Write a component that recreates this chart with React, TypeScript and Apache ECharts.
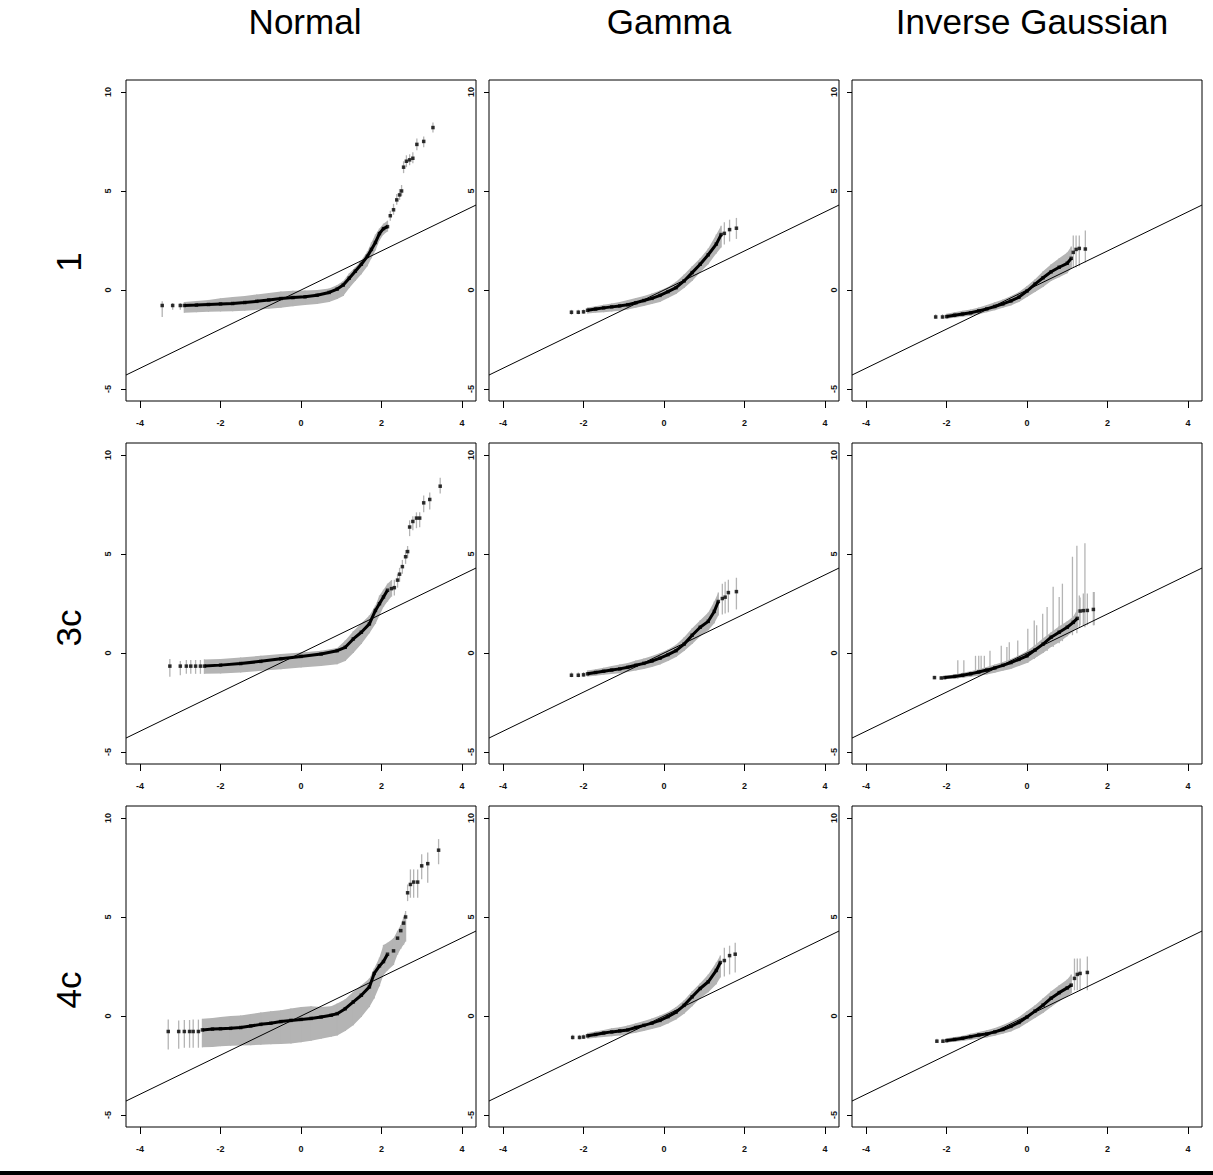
import React, { useEffect, useRef } from "react";
import * as echarts from "echarts";

const COLUMN_TITLES = ["Normal", "Gamma", "Inverse Gaussian"];
const ROW_LABELS = ["1", "3c", "4c"];
const X_TICKS = [-4, -2, 0, 2, 4];
const Y_TICKS = [-5, 0, 5, 10];
const X_RANGE = [-4.35, 4.35];
const Y_RANGE = [-5.6, 10.6];
const REF_LINE_X = [-4.35, 4.35];
const REF_LINE_Y = [-4.29, 4.29];

// ---- Row "1", Normal ----
const n1X = [-3.45, -3.19, -3.0, -2.9, -2.6, -2.3, -2.0, -1.7, -1.4, -1.1, -0.8, -0.5, -0.2, 0.1, 0.4, 0.7, 0.9, 1.05, 1.2, 1.35, 1.5, 1.65, 1.75, 1.85, 1.95, 2.05, 2.15, 2.22, 2.3, 2.38, 2.45, 2.5, 2.55, 2.62, 2.7, 2.78, 2.88, 3.05, 3.28];
const n1Y = [-0.78, -0.78, -0.78, -0.78, -0.76, -0.73, -0.7, -0.68, -0.63, -0.57, -0.5, -0.43, -0.38, -0.34, -0.26, -0.12, 0.05, 0.25, 0.6, 0.95, 1.3, 1.7, 2.05, 2.4, 2.85, 3.1, 3.2, 3.75, 4.05, 4.55, 4.8, 5.0, 6.2, 6.5, 6.57, 6.65, 7.35, 7.5, 8.2];
const n1Lo = [-1.36, -1.0, -1.0, -1.15, -1.12, -1.1, -1.08, -1.07, -1.05, -1.0, -0.95, -0.9, -0.82, -0.75, -0.7, -0.6, -0.45, -0.3, 0.1, 0.45, 0.8, 1.2, 1.6, 2.0, 2.5, 2.8, 2.95, 3.5, 3.8, 4.3, 4.55, 4.75, 5.9, 6.2, 6.3, 6.4, 7.05, 7.2, 7.95];
const n1Hi = [-0.56, -0.65, -0.65, -0.6, -0.55, -0.5, -0.42, -0.35, -0.3, -0.22, -0.15, -0.08, -0.04, -0.02, 0.0, 0.08, 0.25, 0.45, 0.85, 1.15, 1.5, 1.95, 2.4, 2.8, 3.1, 3.35, 3.5, 4.0, 4.35, 4.85, 5.1, 5.3, 6.5, 6.8, 6.85, 6.95, 7.65, 7.75, 8.45];
const n1Band = [3, 26];
const n1Curve = [3, 26];

// ---- Row "1", Gamma ----
const g1X = [-2.3, -2.13, -2.0, -1.9, -1.7, -1.5, -1.3, -1.1, -0.9, -0.7, -0.5, -0.3, -0.1, 0.1, 0.3, 0.5, 0.7, 0.9, 1.1, 1.3, 1.42, 1.5, 1.63, 1.8];
const g1Y = [-1.12, -1.12, -1.1, -1.02, -0.96, -0.9, -0.85, -0.8, -0.74, -0.64, -0.53, -0.42, -0.27, -0.08, 0.12, 0.46, 0.88, 1.3, 1.78, 2.32, 2.8, 2.86, 3.05, 3.12];
const g1Lo = [-1.25, -1.22, -1.2, -1.18, -1.14, -1.12, -1.08, -1.04, -0.98, -0.9, -0.8, -0.7, -0.6, -0.4, -0.2, 0.1, 0.45, 0.9, 1.3, 1.85, 2.15, 2.3, 2.45, 2.58];
const g1Hi = [-1.0, -1.0, -0.98, -0.88, -0.82, -0.74, -0.68, -0.6, -0.5, -0.4, -0.3, -0.18, -0.02, 0.15, 0.42, 0.78, 1.2, 1.6, 2.1, 2.8, 3.25, 3.42, 3.55, 3.64];
const g1Band = [3, 20];
const g1Curve = [3, 20];

// ---- Row "1", Inverse Gaussian ----
const i1X = [-2.27, -2.1, -2.0, -1.8, -1.6, -1.4, -1.2, -1.0, -0.8, -0.6, -0.4, -0.2, 0.0, 0.2, 0.4, 0.6, 0.8, 1.0, 1.1, 1.15, 1.22, 1.3, 1.45];
const i1Y = [-1.36, -1.36, -1.34, -1.27, -1.21, -1.15, -1.05, -0.95, -0.83, -0.7, -0.55, -0.36, -0.05, 0.3, 0.62, 0.92, 1.15, 1.35, 1.6, 1.9, 2.05, 2.1, 2.07];
const i1Lo = [-1.45, -1.45, -1.45, -1.4, -1.35, -1.3, -1.22, -1.12, -1.02, -0.9, -0.78, -0.6, -0.35, -0.1, 0.15, 0.45, 0.65, 0.85, 1.1, 1.14, 1.14, 1.2, 1.39];
const i1Hi = [-1.22, -1.22, -1.2, -1.12, -1.05, -0.98, -0.88, -0.76, -0.62, -0.48, -0.3, -0.1, 0.2, 0.55, 0.95, 1.3, 1.6, 1.9, 2.2, 2.75, 2.75, 2.75, 3.0];
const i1Band = [2, 18];
const i1Curve = [2, 18];

// ---- Row "3c", Normal ----
const n3X = [-3.26, -3.0, -2.85, -2.74, -2.62, -2.5, -2.4, -2.0, -1.5, -1.0, -0.5, 0.0, 0.5, 0.9, 1.1, 1.3, 1.5, 1.7, 1.85, 1.95, 2.05, 2.15, 2.25, 2.32, 2.4, 2.45, 2.52, 2.6, 2.65, 2.7, 2.78, 2.87, 2.95, 3.05, 3.2, 3.46];
const n3Y = [-0.66, -0.66, -0.66, -0.66, -0.66, -0.66, -0.66, -0.61, -0.53, -0.42, -0.29, -0.17, -0.05, 0.12, 0.29, 0.71, 1.05, 1.47, 2.15, 2.49, 2.83, 3.17, 3.25, 3.3, 3.68, 3.98, 4.36, 4.86, 5.12, 6.36, 6.64, 6.81, 6.81, 7.58, 7.75, 8.42];
const n3Lo = [-1.2, -1.12, -1.05, -1.05, -1.05, -1.05, -1.05, -1.03, -0.98, -0.9, -0.82, -0.73, -0.65, -0.56, -0.4, 0.0, 0.46, 1.0, 1.47, 1.9, 2.32, 2.6, 2.85, 2.9, 3.3, 3.6, 4.0, 4.5, 4.8, 5.9, 6.2, 6.3, 6.35, 7.1, 7.25, 8.05];
const n3Hi = [-0.3, -0.4, -0.35, -0.35, -0.35, -0.35, -0.32, -0.3, -0.22, -0.14, -0.05, 0.03, 0.12, 0.25, 0.63, 1.1, 1.5, 1.9, 2.4, 2.9, 3.2, 3.5, 3.68, 3.7, 4.0, 4.3, 4.7, 5.2, 5.4, 6.7, 6.9, 7.1, 7.1, 7.95, 8.1, 8.85];
const n3Band = [6, 22];
const n3Curve = [6, 21];

// ---- Row "3c", Gamma ----
const g3X = [-2.3, -2.13, -2.0, -1.9, -1.7, -1.5, -1.3, -1.1, -0.9, -0.7, -0.5, -0.3, -0.1, 0.1, 0.3, 0.5, 0.7, 0.9, 1.1, 1.25, 1.35, 1.45, 1.52, 1.6, 1.8];
const g3Y = [-1.12, -1.12, -1.1, -1.05, -0.98, -0.92, -0.86, -0.8, -0.72, -0.62, -0.52, -0.4, -0.26, -0.08, 0.12, 0.45, 0.9, 1.3, 1.6, 2.1, 2.6, 2.75, 2.82, 3.05, 3.1];
const g3Lo = [-1.22, -1.22, -1.2, -1.18, -1.14, -1.1, -1.06, -1.02, -0.96, -0.88, -0.8, -0.7, -0.58, -0.4, -0.2, 0.1, 0.45, 0.85, 1.15, 1.5, 1.9, 1.95, 2.0, 2.05, 2.2];
const g3Hi = [-0.98, -0.98, -0.96, -0.88, -0.82, -0.74, -0.66, -0.58, -0.5, -0.38, -0.28, -0.15, 0.0, 0.18, 0.42, 0.8, 1.25, 1.65, 2.05, 2.6, 3.05, 3.5, 3.6, 3.7, 3.8];
const g3Band = [3, 20];
const g3Curve = [3, 20];

// ---- Row "3c", Inverse Gaussian ----
const i3X = [-2.3, -2.13, -2.05, -1.8, -1.6, -1.4, -1.2, -1.0, -0.8, -0.6, -0.4, -0.2, 0.0, 0.2, 0.4, 0.6, 0.8, 1.0, 1.15, 1.25, 1.32, 1.4, 1.5, 1.65];
const i3Y = [-1.24, -1.26, -1.24, -1.18, -1.12, -1.05, -0.96, -0.86, -0.75, -0.62, -0.48, -0.32, -0.14, 0.15, 0.45, 0.8, 1.05, 1.3, 1.55, 1.75, 2.12, 2.14, 2.15, 2.2];
const i3Lo = [-1.32, -1.34, -1.32, -1.28, -1.25, -1.2, -1.15, -1.08, -1.0, -0.9, -0.8, -0.65, -0.5, -0.25, 0.0, 0.3, 0.55, 0.85, 1.1, 1.3, 1.4, 1.4, 1.4, 1.4];
const i3Hi = [-1.15, -1.17, -1.15, -1.08, -1.0, -0.92, -0.82, -0.7, -0.58, -0.45, -0.3, -0.12, 0.1, 0.4, 0.75, 1.05, 1.35, 1.6, 1.85, 2.2, 2.8, 3.0, 3.0, 3.08];
const i3Band = [2, 19];
const i3Curve = [2, 19];
const i3SpikeX = [-1.72, -1.57, -1.28, -1.2, -1.14, -1.06, -0.92, -0.64, -0.5, -0.44, -0.23, 0.02, 0.18, 0.24, 0.39, 0.5, 0.65, 0.8, 0.88, 1.13, 1.24, 1.3, 1.44, 1.67];
const i3SpikeLo = [-1.3, -1.25, -1.15, -1.12, -1.1, -1.08, -1.0, -0.9, -0.82, -0.8, -0.65, -0.5, -0.3, -0.2, 0.0, 0.1, 0.3, 0.5, 0.6, 0.9, 1.0, 1.3, 1.3, 1.4];
const i3SpikeHi = [-0.36, -0.36, -0.14, -0.14, -0.14, -0.14, 0.12, 0.37, 0.3, 0.54, 0.63, 1.22, 1.64, 1.4, 1.98, 2.32, 3.34, 2.83, 3.5, 4.86, 5.42, 2.9, 5.54, 3.08];

// ---- Row "4c", Normal ----
const n4X = [-3.3, -3.04, -2.9, -2.77, -2.68, -2.55, -2.45, -2.2, -2.0, -1.75, -1.5, -1.25, -1.0, -0.75, -0.5, -0.25, 0.0, 0.25, 0.5, 0.75, 0.9, 1.1, 1.3, 1.5, 1.7, 1.82, 1.95, 2.05, 2.15, 2.3, 2.4, 2.48, 2.55, 2.6, 2.65, 2.72, 2.8, 2.9, 3.0, 3.15, 3.42];
const n4Y = [-0.78, -0.78, -0.78, -0.78, -0.78, -0.78, -0.7, -0.66, -0.64, -0.62, -0.58, -0.5, -0.42, -0.36, -0.28, -0.22, -0.17, -0.12, -0.05, 0.04, 0.12, 0.37, 0.71, 1.05, 1.47, 2.15, 2.53, 2.75, 3.12, 3.29, 3.93, 4.31, 4.69, 5.0, 6.22, 6.64, 6.76, 6.76, 7.58, 7.69, 8.37];
const n4Lo = [-1.69, -1.65, -1.6, -1.6, -1.6, -1.6, -1.58, -1.56, -1.52, -1.5, -1.49, -1.47, -1.45, -1.43, -1.41, -1.38, -1.32, -1.25, -1.15, -1.05, -0.98, -0.75, -0.47, -0.05, 0.45, 0.88, 1.5, 2.07, 2.3, 2.58, 3.1, 3.4, 3.6, 3.76, 5.8, 5.97, 5.97, 5.97, 6.9, 6.73, 7.66];
const n4Hi = [-0.17, -0.22, -0.2, -0.2, -0.18, -0.18, -0.14, -0.1, -0.05, 0.0, 0.03, 0.1, 0.18, 0.24, 0.29, 0.38, 0.46, 0.5, 0.46, 0.5, 0.63, 0.85, 1.22, 1.55, 1.9, 2.4, 2.95, 3.59, 3.7, 3.93, 4.3, 4.6, 5.0, 5.3, 6.64, 7.4, 7.4, 7.4, 8.17, 8.25, 8.93];
const n4Band = [6, 33];
const n4Curve = [6, 28];

// ---- Row "4c", Gamma ----
const g4X = [-2.27, -2.1, -2.0, -1.9, -1.7, -1.5, -1.3, -1.1, -0.9, -0.7, -0.5, -0.3, -0.1, 0.1, 0.3, 0.5, 0.7, 0.9, 1.1, 1.3, 1.4, 1.5, 1.63, 1.77];
const g4Y = [-1.08, -1.08, -1.06, -1.0, -0.93, -0.86, -0.8, -0.75, -0.7, -0.58, -0.47, -0.36, -0.22, -0.03, 0.2, 0.54, 0.97, 1.39, 1.73, 2.3, 2.7, 2.8, 3.05, 3.12];
const g4Lo = [-1.18, -1.18, -1.16, -1.14, -1.1, -1.06, -1.02, -0.98, -0.92, -0.84, -0.75, -0.66, -0.55, -0.38, -0.18, 0.12, 0.5, 0.9, 1.2, 1.6, 1.95, 2.0, 2.1, 2.2];
const g4Hi = [-0.95, -0.95, -0.93, -0.85, -0.78, -0.7, -0.62, -0.56, -0.48, -0.36, -0.25, -0.12, 0.03, 0.2, 0.45, 0.8, 1.25, 1.65, 2.1, 2.7, 3.05, 3.45, 3.55, 3.7];
const g4Band = [3, 20];
const g4Curve = [3, 20];

// ---- Row "4c", Inverse Gaussian ----
const i4X = [-2.24, -2.09, -2.0, -1.8, -1.6, -1.4, -1.2, -1.0, -0.8, -0.6, -0.4, -0.2, 0.0, 0.2, 0.4, 0.6, 0.8, 1.0, 1.1, 1.18, 1.25, 1.32, 1.5];
const i4Y = [-1.27, -1.27, -1.24, -1.18, -1.12, -1.04, -0.96, -0.9, -0.8, -0.68, -0.52, -0.32, -0.05, 0.25, 0.55, 0.9, 1.18, 1.42, 1.56, 1.9, 2.1, 2.15, 2.2];
const i4Lo = [-1.36, -1.36, -1.34, -1.3, -1.26, -1.2, -1.14, -1.08, -1.0, -0.9, -0.78, -0.6, -0.35, -0.1, 0.15, 0.45, 0.75, 1.0, 1.15, 1.3, 1.3, 1.3, 1.3];
const i4Hi = [-1.15, -1.15, -1.12, -1.06, -1.0, -0.9, -0.8, -0.72, -0.6, -0.45, -0.28, -0.05, 0.25, 0.55, 0.9, 1.25, 1.55, 1.85, 2.1, 2.9, 2.9, 2.9, 3.0];
const i4Band = [2, 18];
const i4Curve = [2, 18];

const PANELS = [
  { x: n1X, y: n1Y, lo: n1Lo, hi: n1Hi, band: n1Band, curve: n1Curve },
  { x: g1X, y: g1Y, lo: g1Lo, hi: g1Hi, band: g1Band, curve: g1Curve },
  { x: i1X, y: i1Y, lo: i1Lo, hi: i1Hi, band: i1Band, curve: i1Curve },
  { x: n3X, y: n3Y, lo: n3Lo, hi: n3Hi, band: n3Band, curve: n3Curve },
  { x: g3X, y: g3Y, lo: g3Lo, hi: g3Hi, band: g3Band, curve: g3Curve },
  { x: i3X, y: i3Y, lo: i3Lo, hi: i3Hi, band: i3Band, curve: i3Curve, spikes: { x: i3SpikeX, lo: i3SpikeLo, hi: i3SpikeHi } },
  { x: n4X, y: n4Y, lo: n4Lo, hi: n4Hi, band: n4Band, curve: n4Curve },
  { x: g4X, y: g4Y, lo: g4Lo, hi: g4Hi, band: g4Band, curve: g4Curve },
  { x: i4X, y: i4Y, lo: i4Lo, hi: i4Hi, band: i4Band, curve: i4Curve },
];

const COL_LEFT = [126, 489, 852];
const ROW_TOP = [80, 443, 806];
const PANEL_W = 350;
const PANEL_H = 321;
const GRAY = "#b4b4b4";
const FONT = "Liberation Sans, Arial, sans-serif";

function buildOption() {
  const grid: any[] = [];
  const xAxis: any[] = [];
  const yAxis: any[] = [];
  const series: any[] = [];
  const graphic: any[] = [];

  PANELS.forEach((p: any, i) => {
    const r = Math.floor(i / 3);
    const c = i % 3;
    grid.push({
      left: COL_LEFT[c],
      top: ROW_TOP[r],
      width: PANEL_W,
      height: PANEL_H,
      show: true,
      borderColor: "#000",
      borderWidth: 1,
      backgroundColor: "transparent",
      containLabel: false,
    });
    xAxis.push({
      type: "value",
      gridIndex: i,
      position: "bottom",
      min: X_RANGE[0],
      max: X_RANGE[1],
      axisLine: { show: false, onZero: false },
      splitLine: { show: false },
      axisTick: { show: true, length: 7, customValues: X_TICKS, lineStyle: { color: "#000" } },
      axisLabel: { customValues: X_TICKS, fontSize: 9, fontWeight: "bold", margin: 17, color: "#111", fontFamily: FONT },
    });
    yAxis.push({
      type: "value",
      gridIndex: i,
      position: "left",
      min: Y_RANGE[0],
      max: Y_RANGE[1],
      axisLine: { show: false, onZero: false },
      splitLine: { show: false },
      axisTick: { show: true, length: 5, customValues: Y_TICKS, lineStyle: { color: "#000" } },
      axisLabel: { customValues: Y_TICKS, rotate: 90, fontSize: 9, fontWeight: "bold", margin: 14, color: "#111", fontFamily: FONT },
    });

    const [b0, b1] = p.band;
    const [c0, c1] = p.curve;
    // band polygon
    series.push({
      type: "custom",
      xAxisIndex: i,
      yAxisIndex: i,
      clip: true,
      silent: true,
      z: 1,
      data: [[0, 0]],
      renderItem: (params: any, api: any) => {
        const pts: number[][] = [];
        for (let k = b0; k <= b1; k++) pts.push(api.coord([p.x[k], p.lo[k]]));
        for (let k = b1; k >= b0; k--) pts.push(api.coord([p.x[k], p.hi[k]]));
        return { type: "polygon", shape: { points: pts }, style: { fill: GRAY } };
      },
    });
    // error bars
    const bars: number[][] = p.x.map((xv: number, k: number) => [xv, p.lo[k], p.hi[k]]);
    if (p.spikes) {
      p.spikes.x.forEach((xv: number, k: number) => bars.push([xv, p.spikes.lo[k], p.spikes.hi[k]]));
    }
    series.push({
      type: "custom",
      xAxisIndex: i,
      yAxisIndex: i,
      clip: true,
      silent: true,
      z: 2,
      data: bars,
      encode: { x: 0, y: [1, 2] },
      renderItem: (params: any, api: any) => {
        const a = api.coord([api.value(0), api.value(1)]);
        const b = api.coord([api.value(0), api.value(2)]);
        return {
          type: "line",
          shape: { x1: a[0], y1: a[1], x2: b[0], y2: b[1] },
          style: { stroke: GRAY, lineWidth: 1.3 },
        };
      },
    });
    // reference line
    series.push({
      type: "line",
      xAxisIndex: i,
      yAxisIndex: i,
      silent: true,
      z: 3,
      symbol: "none",
      data: [
        [REF_LINE_X[0], REF_LINE_Y[0]],
        [REF_LINE_X[1], REF_LINE_Y[1]],
      ],
      lineStyle: { color: "#000", width: 1 },
    });
    // black curve
    const curve: number[][] = [];
    for (let k = c0; k <= c1; k++) curve.push([p.x[k], p.y[k]]);
    series.push({
      type: "line",
      xAxisIndex: i,
      yAxisIndex: i,
      silent: true,
      z: 4,
      symbol: "none",
      data: curve,
      lineStyle: { color: "#000", width: 3 },
    });
    series.push({
      type: "scatter",
      xAxisIndex: i,
      yAxisIndex: i,
      silent: true,
      z: 5,
      symbol: "rect",
      symbolSize: 3.5,
      itemStyle: { color: "#000" },
      data: p.x.map((xv: number, k: number) => [xv, p.y[k]]),
    });
  });

  const titleCenters = [305, 669, 1032];
  COLUMN_TITLES.forEach((t, c) => {
    graphic.push({
      type: "text",
      x: titleCenters[c],
      y: 21,
      style: { text: t, font: `35px ${FONT}`, fill: "#000", textAlign: "center", textVerticalAlign: "middle" },
    });
  });
  const rowCenters = [262, 628, 990];
  ROW_LABELS.forEach((t, r) => {
    graphic.push({
      type: "text",
      x: 68,
      y: rowCenters[r],
      rotation: Math.PI / 2,
      style: { text: t, font: `35px ${FONT}`, fill: "#000", textAlign: "center", textVerticalAlign: "middle" },
    });
  });
  graphic.push({
    type: "rect",
    shape: { x: 0, y: 1171, width: 1213, height: 4 },
    style: { fill: "#000" },
  });

  return {
    animation: false,
    backgroundColor: "#fff",
    grid,
    xAxis,
    yAxis,
    series,
    graphic,
  };
}

export default function App() {
  const ref = useRef<HTMLDivElement>(null);
  useEffect(() => {
    if (!ref.current) return;
    const chart = echarts.init(ref.current, null, { renderer: "svg" });
    chart.setOption(buildOption());
    return () => chart.dispose();
  }, []);
  return (
    <div
      ref={ref}
      style={{ position: "absolute", left: 0, top: 0, width: 1213, height: 1175, background: "#fff" }}
    />
  );
}
